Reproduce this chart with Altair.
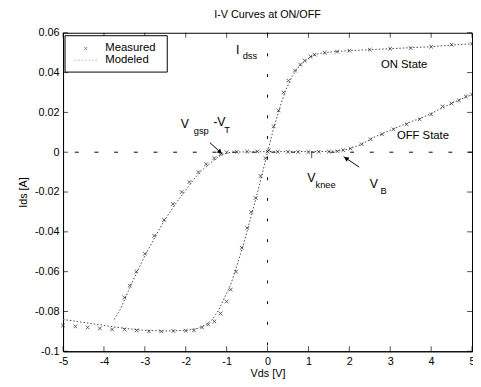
import altair as alt
import pandas as pd

FONT = "Liberation Sans"

X_TICKS = [-5, -4, -3, -2, -1, 0, 1, 2, 3, 4, 5]
Y_TICKS = [-0.1, -0.08, -0.06, -0.04, -0.02, 0, 0.02, 0.04, 0.06]

# Measured, ON state
meas_on_v = [-5.0, -4.7, -4.4, -4.1, -3.8, -3.5, -3.2, -2.9, -2.6, -2.3, -2.0, -1.8, -1.6,
             -1.45, -1.3, -1.15, -1.0, -0.9, -0.77, -0.63, -0.5, -0.4, -0.29, -0.17, -0.05,
             0.03, 0.15, 0.27, 0.39, 0.51, 0.67, 0.8, 0.91, 1.05, 1.15, 1.4, 1.7, 2.0, 2.5,
             3.0, 3.5, 4.0, 4.5, 5.0]
meas_on_i = [-0.087, -0.0875, -0.088, -0.0885, -0.089, -0.089, -0.0895, -0.090, -0.090,
             -0.0898, -0.0897, -0.0895, -0.088, -0.0865, -0.085, -0.081, -0.075, -0.069,
             -0.060, -0.048, -0.038, -0.030, -0.023, -0.012, -0.003, 0.001, 0.013, 0.021,
             0.030, 0.036, 0.041, 0.044, 0.046, 0.048, 0.049, 0.050, 0.0505, 0.051, 0.0515,
             0.052, 0.0523, 0.053, 0.054, 0.0545]

# Measured, OFF state
meas_off_v = [-3.5, -3.37, -3.21, -3.0, -2.77, -2.53, -2.31, -2.1, -1.91, -1.69, -1.5, -1.3,
              -1.15, -1.0, -0.75, -0.5, -0.25, 0.0, 0.25, 0.5, 0.75, 1.0, 1.25, 1.5, 1.71,
              1.85, 2.03, 2.3, 2.52, 2.8, 3.08, 3.4, 3.72, 4.0, 4.28, 4.5, 4.68, 4.85, 5.0]
meas_off_i = [-0.073, -0.067, -0.060, -0.051, -0.042, -0.034, -0.026, -0.020, -0.015, -0.010,
              -0.006, -0.003, -0.001, 0.0, 0.0002, 0.0003, 0.0004, 0.0003, 0.0002, 0.0002,
              0.0001, 0.0001, 0.0002, 0.0003, 0.0005, 0.001, 0.0018, 0.004, 0.0065, 0.009,
              0.0115, 0.014, 0.0165, 0.019, 0.023, 0.0245, 0.026, 0.028, 0.029]

# Modeled, ON state
mod_on_v = [-5, -4.5, -4, -3.5, -3, -2.5, -2, -1.7, -1.5, -1.35, -1.2, -1.05, -0.9, -0.75,
            -0.6, -0.45, -0.3, -0.15, 0, 0.15, 0.3, 0.45, 0.6, 0.75, 0.9, 1.1, 1.3, 1.6,
            2, 2.5, 3, 3.5, 4, 4.5, 5]
mod_on_i = [-0.084, -0.0855, -0.087, -0.0885, -0.0895, -0.0898, -0.0895, -0.0885, -0.0865,
            -0.084, -0.0795, -0.073, -0.0665, -0.057, -0.047, -0.036, -0.0245, -0.0125, 0.0,
            0.012, 0.0225, 0.0315, 0.038, 0.0425, 0.0455, 0.0485, 0.0497, 0.0505, 0.051,
            0.0515, 0.052, 0.0525, 0.053, 0.0538, 0.0545]

# Modeled, OFF state
mod_off_v = [-3.75, -3.6, -3.4, -3.2, -3.0, -2.8, -2.6, -2.4, -2.2, -2.0, -1.8, -1.6, -1.4,
             -1.25, -1.1, -0.9, -0.5, 0, 0.5, 1, 1.5, 1.8, 2.0, 2.3, 2.6, 3, 3.4, 3.8, 4.2,
             4.6, 5]
mod_off_i = [-0.084, -0.079, -0.0695, -0.0605, -0.052, -0.0445, -0.037, -0.0305, -0.0245,
             -0.019, -0.0135, -0.009, -0.0055, -0.003, -0.001, 0.0, 0.0002, 0.0003, 0.0003,
             0.0003, 0.0004, 0.0008, 0.0017, 0.004, 0.0075, 0.011, 0.0145, 0.0175, 0.0215,
             0.0255, 0.029]

# Annotations (main letters and subscripts)
ann_main_text = ["I", "V", "-V", "V", "V"]
ann_main_v = [-0.73, -2.02, -1.18, 1.07, 2.6]
ann_main_i = [0.0512, 0.0142, 0.0150, -0.0128, -0.0162]
ann_sub_text = ["dss", "gsp", "T", "knee", "B"]
ann_sub_v = [-0.43, -1.62, -0.99, 1.42, 2.84]
ann_sub_i = [0.0485, 0.0104, 0.0112, -0.0166, -0.0196]
state_text = ["ON State", "OFF State"]
state_v = [3.34, 3.8]
state_i = [0.0437, 0.0081]

# Arrows
arrow_v = [-1.41, 2.24]
arrow_i = [0.0048, -0.0075]
arrow_v2 = [-1.1, 1.86]
arrow_i2 = [-0.001, -0.0022]
head_v = [-1.16, 1.92]
head_i = [0.0001, -0.0031]
head_angle = [132, 304]


def frame(v, i, branch):
    return pd.DataFrame({"v": v, "i": i, "branch": branch})


meas = pd.concat([frame(meas_on_v, meas_on_i, "ON"), frame(meas_off_v, meas_off_i, "OFF")])
model = pd.concat([frame(mod_on_v, mod_on_i, "ON"), frame(mod_off_v, mod_off_i, "OFF")])

xscale = alt.Scale(domain=[-5, 5], nice=False, zero=False)
yscale = alt.Scale(domain=[-0.1, 0.06], nice=False, zero=False)
xaxis = alt.Axis(values=X_TICKS, title="Vds [V]", labelExpr="toString(datum.value)",
                 tickSize=0, labelPadding=4, titlePadding=2, grid=False,
                 labelFlush=False, labelOverlap=False)
yaxis = alt.Axis(values=Y_TICKS, title="Ids [A]",
                 labelExpr="toString(round(datum.value*100)/100)",
                 tickSize=0, labelPadding=4, titlePadding=6, grid=False,
                 labelFlush=False, labelOverlap=False)
X = alt.X("v:Q", scale=xscale, axis=xaxis)
Y = alt.Y("i:Q", scale=yscale, axis=yaxis)

one = pd.DataFrame({"a": [0]})

zero_h = alt.Chart(one).mark_rule(color="black", strokeWidth=1, strokeDash=[4, 16]).encode(
    y=alt.datum(0))
zero_v = alt.Chart(one).mark_rule(color="black", strokeWidth=1, strokeDash=[3, 18]).encode(
    x=alt.datum(0))

model_line = alt.Chart(model).mark_line(color="#444444", strokeWidth=1, strokeDash=[1.5, 2]).encode(
    x=X, y=Y, detail="branch:N")

xpath = "M-1,-1L1,1M-1,1L1,-1"
meas_pts = alt.Chart(meas).mark_point(shape=xpath, size=14, filled=False, color="#222222",
                                      strokeWidth=0.8, opacity=0.9).encode(x=X, y=Y)

xt = pd.DataFrame({"v": X_TICKS})
yt = pd.DataFrame({"i": Y_TICKS})
tick_b = alt.Chart(xt).mark_tick(orient="vertical", size=5, thickness=1, color="black",
                                 yOffset=-2.5).encode(x=X, y=alt.datum(-0.1))
tick_t = alt.Chart(xt).mark_tick(orient="vertical", size=5, thickness=1, color="black",
                                 yOffset=2.5).encode(x=X, y=alt.datum(0.06))
tick_l = alt.Chart(yt).mark_tick(orient="horizontal", size=5, thickness=1, color="black",
                                 xOffset=2.5).encode(y=Y, x=alt.datum(-5))
tick_r = alt.Chart(yt).mark_tick(orient="horizontal", size=5, thickness=1, color="black",
                                 xOffset=-2.5).encode(y=Y, x=alt.datum(5))

ann_main = alt.Chart(pd.DataFrame({"v": ann_main_v, "i": ann_main_i, "t": ann_main_text})).mark_text(
    font=FONT, fontSize=12.5, align="center", baseline="middle", color="black").encode(
    x=X, y=Y, text="t:N")
ann_sub = alt.Chart(pd.DataFrame({"v": ann_sub_v, "i": ann_sub_i, "t": ann_sub_text})).mark_text(
    font=FONT, fontSize=9.5, align="center", baseline="middle", color="black").encode(
    x=X, y=Y, text="t:N")
ann_state = alt.Chart(pd.DataFrame({"v": state_v, "i": state_i, "t": state_text})).mark_text(
    font=FONT, fontSize=11.5, align="center", baseline="middle", color="black").encode(
    x=X, y=Y, text="t:N")

arrows = alt.Chart(pd.DataFrame({"v": arrow_v, "i": arrow_i, "v2": arrow_v2, "i2": arrow_i2})).mark_rule(
    color="black", strokeWidth=1).encode(x=X, y=Y, x2="v2:Q", y2="i2:Q")
heads = alt.Chart(pd.DataFrame({"v": head_v, "i": head_i, "a": head_angle})).mark_point(
    shape="triangle-up", filled=True, color="black", size=28, opacity=1).encode(
    x=X, y=Y, angle=alt.Angle("a:Q", scale=None))

knee_tick = alt.Chart(pd.DataFrame({"v": [1.08], "i": [0.0], "i2": [-0.003]})).mark_rule(
    color="#555555", strokeWidth=1).encode(x=X, y=Y, y2="i2:Q")

# Legend box
leg_box = alt.Chart(one).mark_rect(fill="white", stroke="black", strokeWidth=1).encode(
    x=alt.value(2), x2=alt.value(106), y=alt.value(3), y2=alt.value(40))
leg_t1 = alt.Chart(one).mark_text(text="Measured", font=FONT, fontSize=11.5, align="left",
                                  baseline="middle", color="black").encode(
    x=alt.value(43), y=alt.value(16))
leg_t2 = alt.Chart(one).mark_text(text="Modeled", font=FONT, fontSize=11.5, align="left",
                                  baseline="middle", color="black").encode(
    x=alt.value(43), y=alt.value(28))
leg_m1 = alt.Chart(one).mark_point(shape=xpath, size=10, filled=False, color="#333333",
                                   strokeWidth=0.8).encode(x=alt.value(23), y=alt.value(16))
leg_m2 = alt.Chart(one).mark_rule(color="#bbbbbb", strokeWidth=1, strokeDash=[1.5, 2]).encode(
    x=alt.value(12), x2=alt.value(36), y=alt.value(28))

chart = alt.layer(
    zero_h, zero_v, model_line, meas_pts, tick_b, tick_t, tick_l, tick_r,
    knee_tick, arrows, heads, ann_main, ann_sub, ann_state,
    leg_box, leg_t1, leg_t2, leg_m1, leg_m2,
).properties(
    width=416, height=324,
    title=alt.TitleParams("I-V Curves at ON/OFF", font=FONT, fontSize=11,
                          fontWeight="normal", offset=7, color="black"),
    autosize=alt.AutoSizeParams(type="none"),
    padding={"left": 56, "top": 22, "right": 1, "bottom": 25},
).configure_view(stroke="black", strokeWidth=1).configure_axis(
    labelFont=FONT, titleFont=FONT, labelFontSize=11, titleFontSize=11,
    labelColor="black", titleColor="black", domainColor="black",
    titleFontWeight="normal",
)

chart.save("out.html", embed_options={"renderer": "svg", "actions": False})
